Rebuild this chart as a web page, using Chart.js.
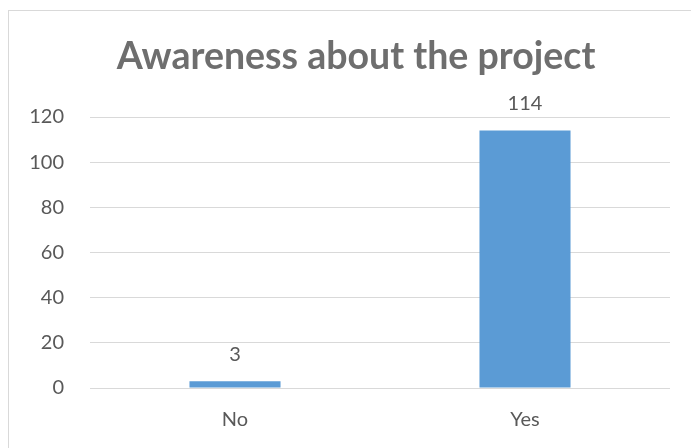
<!DOCTYPE html>
<html>
<head>
<meta charset="utf-8">
<script src="https://cdn.jsdelivr.net/npm/chart.js@4/dist/chart.umd.min.js"></script>
<style>
html,body{margin:0;padding:0;background:#fff;}
#wrap{width:691px;height:448px;position:relative;}
</style>
</head>
<body>
<div id="wrap"><canvas id="c" width="691" height="448"></canvas></div>
<script>
const categories = ["No", "Yes"];
const counts = [3, 114];
const yTicks = [0, 20, 40, 60, 80, 100, 120];
const chartTitle = "Awareness about the project";

const FONT = "Lato, 'Open Sans', sans-serif";
const TEXT = "#595959";
const TITLE_COLOR = "#6e6e6e";

const framePlugin = {
  id: 'frame',
  beforeDraw(chart) {
    const ctx = chart.ctx;
    ctx.save();
    ctx.fillStyle = '#fff';
    ctx.fillRect(0, 0, chart.width, chart.height);
    ctx.strokeStyle = '#d9d9d9';
    ctx.lineWidth = 1;
    ctx.strokeRect(8.5, 10.5, 700, 460);
    // chart title, centred on the chart frame
    ctx.font = "bold 37.5px " + FONT;
    ctx.fillStyle = TITLE_COLOR;
    ctx.textAlign = 'center';
    ctx.textBaseline = 'middle';
    ctx.fillText(chartTitle, 356, 57);
    ctx.restore();
  }
};

const labelPlugin = {
  id: 'valueLabels',
  afterDatasetsDraw(chart) {
    const ctx = chart.ctx;
    const meta = chart.getDatasetMeta(0);
    ctx.save();
    ctx.font = "20px " + FONT;
    ctx.fillStyle = TEXT;
    ctx.textAlign = 'center';
    ctx.textBaseline = 'middle';
    meta.data.forEach((bar, i) => {
      ctx.fillText(String(counts[i]), bar.x, bar.y - 27);
    });
    ctx.restore();
  }
};

new Chart(document.getElementById('c'), {
  type: 'bar',
  data: {
    labels: categories,
    datasets: [{
      data: counts,
      backgroundColor: '#5B9BD5',
      borderWidth: 0,
      categoryPercentage: 1,
      barPercentage: 0.314
    }]
  },
  options: {
    responsive: false,
    animation: false,
    layout: { padding: { top: 117, right: 21, bottom: 17, left: 0 } },
    plugins: {
      legend: { display: false },
      tooltip: { enabled: false },
      title: { display: false }
    },
    scales: {
      x: {
        afterFit(scale) { scale.height = 43; },
        grid: { display: false, drawTicks: false },
        border: { display: false },
        ticks: { color: TEXT, font: { family: FONT, size: 20 }, padding: 20 }
      },
      y: {
        min: 0, max: 120,
        afterFit(scale) { scale.width = 90; },
        afterBuildTicks(scale) { scale.ticks = yTicks.map(v => ({ value: v })); },
        grid: { color: '#d9d9d9', lineWidth: 1, drawTicks: false },
        border: { display: false },
        ticks: { color: TEXT, font: { family: FONT, size: 20 }, padding: 26 }
      }
    }
  },
  plugins: [framePlugin, labelPlugin]
});
</script>
</body>
</html>
